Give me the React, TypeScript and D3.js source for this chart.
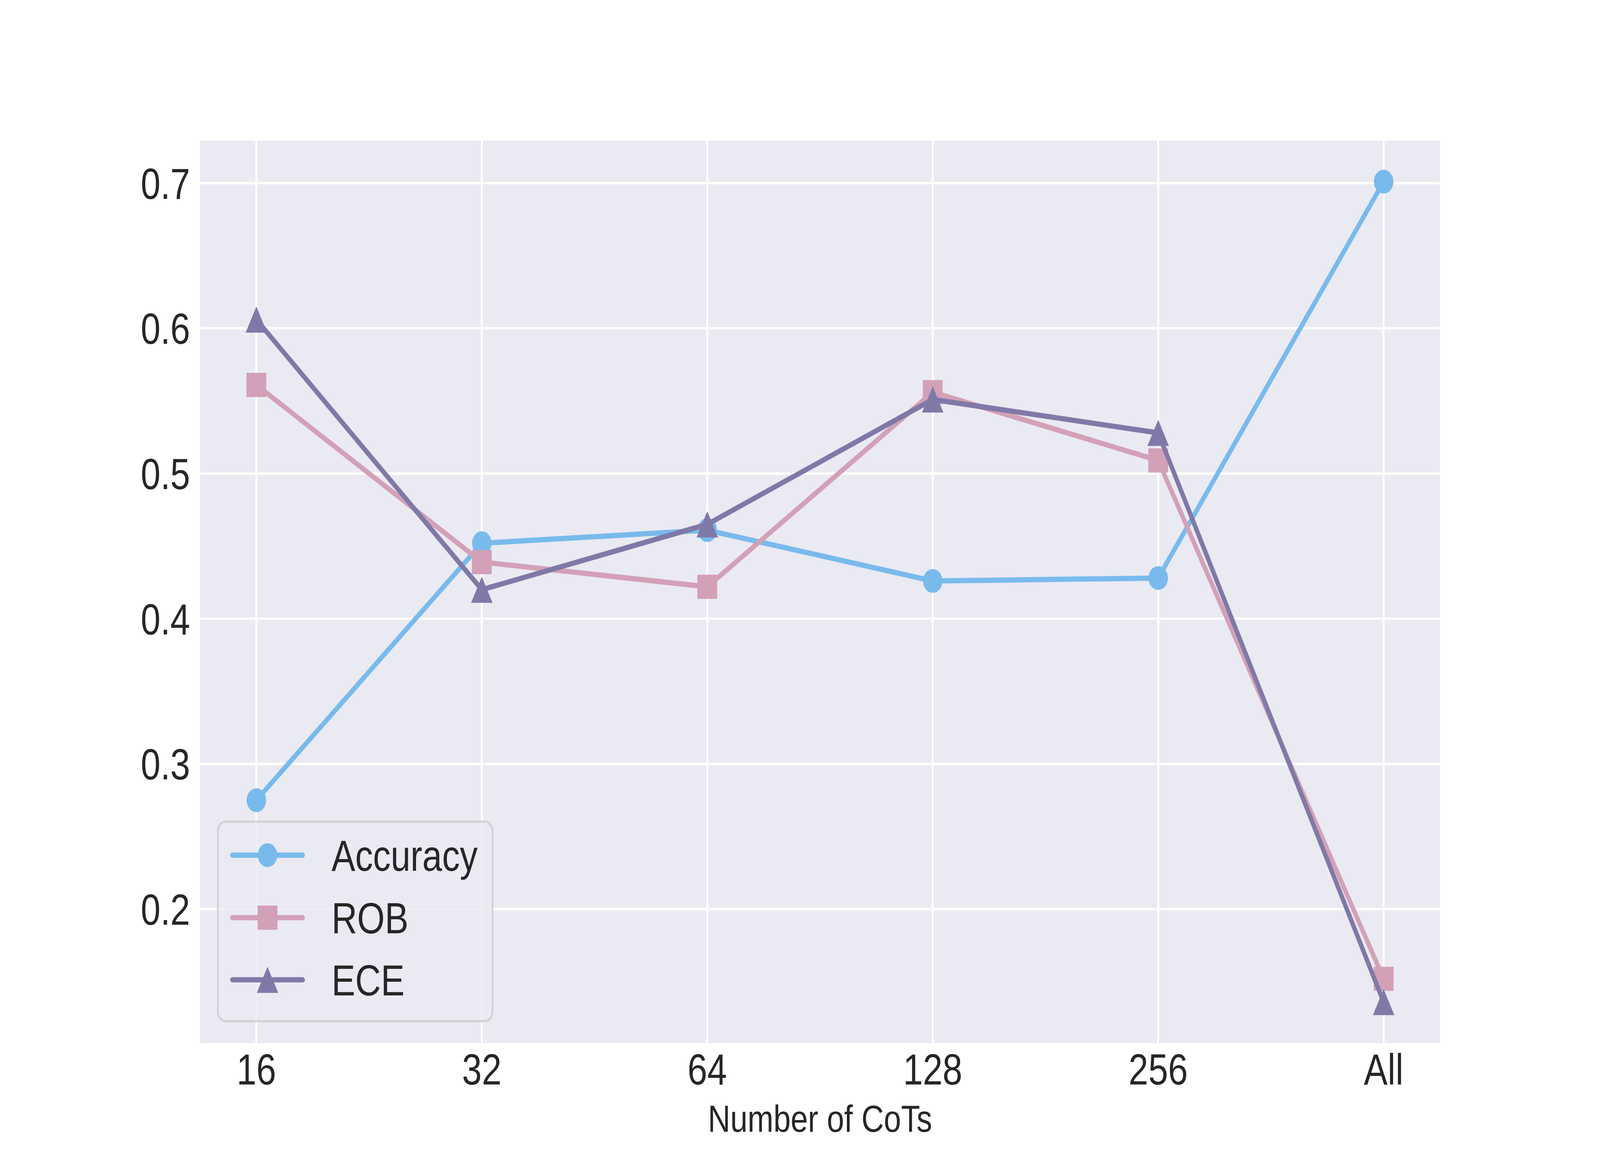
import React from 'react';
import * as d3 from 'd3';

const categories = ['16', '32', '64', '128', '256', 'All'];
const accuracy = [0.275, 0.452, 0.461, 0.426, 0.428, 0.701];
const rob = [0.561, 0.439, 0.422, 0.556, 0.509, 0.152];
const ece = [0.606, 0.420, 0.465, 0.551, 0.528, 0.136];
const yTicks = [0.2, 0.3, 0.4, 0.5, 0.6, 0.7];

const series = [
  { name: 'Accuracy', values: accuracy, color: '#79BAEC', marker: 'circle' },
  { name: 'ROB', values: rob, color: '#D3A1B7', marker: 'square' },
  { name: 'ECE', values: ece, color: '#8079A8', marker: 'triangle' },
];

const W = 5000;
const H = 3000;
const margin = { left: 625, right: 500, top: 360, bottom: 330 };
const FONT = '"Liberation Sans", Arial, "DejaVu Sans", sans-serif';
const TEXT = '#262626';
const LW = 13.5;
const MS = 62;

const Marker: React.FC<{ kind: string; x: number; y: number; color: string }> = ({ kind, x, y, color }) => {
  if (kind === 'circle') return <circle cx={x} cy={y} r={MS / 2 - 0.5} fill={color} />;
  if (kind === 'square')
    return <rect x={x - MS / 2} y={y - MS / 2} width={MS} height={MS} fill={color} />;
  const h = 33.5;
  return <path d={`M${x},${y - h}L${x + h},${y + h}L${x - h},${y + h}Z`} fill={color} />;
};

const App: React.FC = () => {
  const x0 = margin.left;
  const x1 = W - margin.right;
  const y0 = margin.top;
  const y1 = H - margin.bottom;

  const x = d3.scalePoint<string>().domain(categories).range([x0, x1]).padding(0.25);

  // matplotlib-style 5% margins around the data
  const all = [...accuracy, ...rob, ...ece];
  const [lo, hi] = d3.extent(all) as [number, number];
  const pad = (hi - lo) * 0.05;
  const y = d3.scaleLinear().domain([lo - pad, hi + pad]).range([y1, y0]);

  const line = d3
    .line<number>()
    .x((_, i) => x(categories[i]) as number)
    .y((d) => y(d));

  // legend layout
  const lgX = 681;
  const lgY = 2103;
  const lgW = 858;
  const lgH = 511;
  const rowY = [2189, 2349, 2508];

  return (
    <svg
      viewBox={`0 0 ${W} ${H}`}
      preserveAspectRatio="none"
      style={{ position: 'fixed', left: 0, top: 0, width: '100vw', height: '100vh', background: '#fff' }}
      fontFamily={FONT}
    >
      <rect x={0} y={0} width={W} height={H} fill="#ffffff" />
      <rect x={x0} y={y0} width={x1 - x0} height={y1 - y0} fill="#EAEAF2" />

      {/* grid */}
      {yTicks.map((t) => (
        <line key={'gy' + t} x1={x0} x2={x1} y1={y(t)} y2={y(t)} stroke="#fff" strokeWidth={6.2} />
      ))}
      {categories.map((c) => (
        <line key={'gx' + c} x1={x(c)} x2={x(c)} y1={y0} y2={y1} stroke="#fff" strokeWidth={6.2} />
      ))}

      {/* series */}
      {series.map((s) => (
        <g key={s.name}>
          <path
            d={line(s.values) || ''}
            fill="none"
            stroke={s.color}
            strokeWidth={LW}
            strokeLinejoin="round"
            strokeLinecap="round"
          />
          {s.values.map((v, i) => (
            <Marker key={i} kind={s.marker} x={x(categories[i]) as number} y={y(v)} color={s.color} />
          ))}
        </g>
      ))}

      {/* y tick labels */}
      {yTicks.map((t) => (
        <text key={'ty' + t} x={594} y={y(t) + 40} textAnchor="end" fontSize={111} fill={TEXT}>
          {d3.format('.1f')(t)}
        </text>
      ))}

      {/* x tick labels */}
      {categories.map((c) => (
        <text key={'tx' + c} x={x(c)} y={2776} textAnchor="middle" fontSize={111} fill={TEXT}>
          {c}
        </text>
      ))}

      <text x={(x0 + x1) / 2} y={2897} textAnchor="middle" fontSize={97} fill={TEXT}>
        Number of CoTs
      </text>

      {/* legend */}
      <rect
        x={lgX}
        y={lgY}
        width={lgW}
        height={lgH}
        rx={24}
        ry={24}
        fill="#EAEAF2"
        fillOpacity={0.8}
        stroke="#cccccc"
        strokeOpacity={0.8}
        strokeWidth={5.5}
      />
      {series.map((s, i) => (
        <g key={'lg' + s.name}>
          <line x1={726} x2={946} y1={rowY[i]} y2={rowY[i]} stroke={s.color} strokeWidth={LW} strokeLinecap="round" />
          <Marker kind={s.marker} x={836} y={rowY[i]} color={s.color} />
          <text x={1036} y={rowY[i] + 40} fontSize={111} fill={TEXT}>
            {s.name}
          </text>
        </g>
      ))}
    </svg>
  );
};

export default App;
